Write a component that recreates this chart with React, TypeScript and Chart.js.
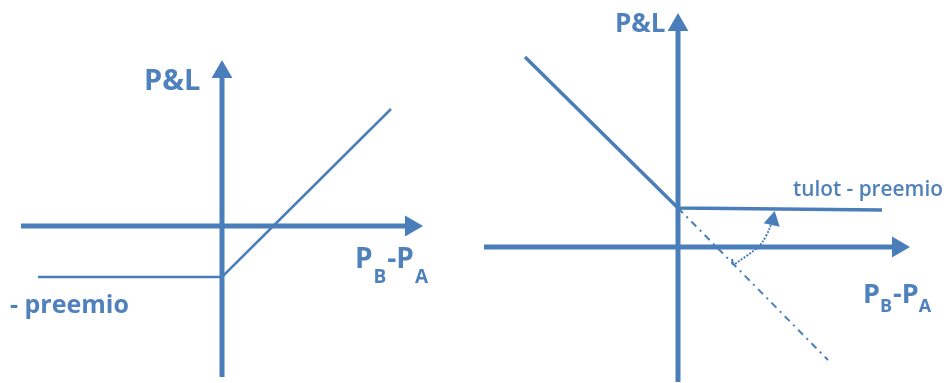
import React, { useEffect, useRef } from "react";
import { Chart, registerables } from "chart.js";

Chart.register(...registerables);

// ---- data (diagram units) ----
// Left panel: long call style payoff
const leftXAxis = [{ x: -20.1, y: 0 }, { x: 18.9, y: 0 }];
const leftYAxis = [{ x: 0, y: -15.1 }, { x: 0, y: 15.4 }];
const leftPayoff = [{ x: -18.4, y: -5.1 }, { x: 0, y: -5.1 }, { x: 16.9, y: 11.7 }];

// Right panel
const rightXAxis = [{ x: -19.4, y: 0 }, { x: 22.0, y: 0 }];
const rightYAxis = [{ x: 0, y: -13.5 }, { x: 0, y: 22.2 }];
const rightPayoff = [{ x: -15.3, y: 19.0 }, { x: 0, y: 3.9 }, { x: 20.4, y: 3.7 }];
const rightDashDot = [{ x: 0, y: 3.9 }, { x: 15.0, y: -11.3 }];
const rightCurveArrow = [{ x: 5.7, y: -1.7 }, { x: 8.0, y: 0 }, { x: 8.8, y: 1.1 }, { x: 9.47, y: 2.66 }];
const rightTick = [{ x: 5.4, y: -1.2 }, { x: 5.5, y: -1.8 }];

// ---- labels ----
const labelPL = "P&L";
const labelLeftPremium = "- preemio";
const labelRightPremium = "tulot - preemio";
const labelAxisMain = "P";
const labelSubB = "B";
const labelDash = "-";
const labelSubA = "A";

const LINE = "#4A7EBB";
const TEXT = "#4F81BD";
const FONT = '"Open Sans", "DejaVu Sans", sans-serif';

type Part = { t: string; size: number; dy: number; weight?: string; gap?: number };

function drawRich(ctx: CanvasRenderingContext2D, x: number, y: number, parts: Part[]) {
  let cx = x;
  for (const p of parts) {
    ctx.font = `${p.weight || "bold"} ${p.size}px ${FONT}`;
    ctx.fillText(p.t, cx, y + p.dy);
    cx += ctx.measureText(p.t).width + (p.gap || 0);
  }
}

const labelPlugin = {
  id: "diagramLabels",
  afterDatasetsDraw(chart: any) {
    const ctx: CanvasRenderingContext2D = chart.ctx;
    const s = chart.scales;
    const px = (scale: string, v: number) => s[scale].getPixelForValue(v);
    ctx.save();
    ctx.fillStyle = TEXT;
    ctx.textAlign = "left";
    ctx.textBaseline = "alphabetic";

    // Left panel
    drawRich(ctx, px("x1", -7.8), px("y1", 13.6), [{ t: labelPL, size: 29, dy: 0 }]);
    drawRich(ctx, px("x1", 13.3), px("y1", -4.2), [
      { t: labelAxisMain, size: 28, dy: 0, gap: 1 },
      { t: labelSubB, size: 19, dy: 15, gap: 1 },
      { t: labelDash, size: 28, dy: 0 },
      { t: labelAxisMain, size: 28, dy: 0, gap: 1 },
      { t: labelSubA, size: 19, dy: 15 },
    ]);
    drawRich(ctx, px("x1", -21.2), px("y1", -8.7), [{ t: labelLeftPremium, size: 25, dy: 0 }]);

    // Right panel
    drawRich(ctx, px("x2", -6.3), px("y2", 21.5), [{ t: labelPL, size: 26, dy: 0 }]);
    drawRich(ctx, px("x2", 18.5), px("y2", -5.6), [
      { t: labelAxisMain, size: 27, dy: 0 },
      { t: labelSubB, size: 18, dy: 9, gap: 1 },
      { t: labelDash, size: 27, dy: 0 },
      { t: labelAxisMain, size: 27, dy: 0 },
      { t: labelSubA, size: 18, dy: 9 },
    ]);
    drawRich(ctx, px("x2", 11.5), px("y2", 5.1), [{ t: labelRightPremium, size: 20.8, dy: 0, weight: "600" }]);
    ctx.restore();
  },
};

function arrowLine(data: any[], xAxisID: string, yAxisID: string, width: number, rot: number, r: number, extra: any = {}) {
  return {
    data,
    xAxisID,
    yAxisID,
    showLine: true,
    borderColor: LINE,
    backgroundColor: LINE,
    borderWidth: width,
    pointRadius: data.map((_, i) => (i === data.length - 1 ? r : 0)),
    pointHoverRadius: 0,
    pointStyle: "triangle",
    pointRotation: rot,
    pointBorderWidth: 0,
    pointBackgroundColor: LINE,
    clip: false,
    ...extra,
  };
}

function plainLine(data: any[], xAxisID: string, yAxisID: string, width: number, extra: any = {}) {
  return {
    data,
    xAxisID,
    yAxisID,
    showLine: true,
    borderColor: LINE,
    backgroundColor: LINE,
    borderWidth: width,
    pointRadius: 0,
    pointHoverRadius: 0,
    clip: false,
    borderCapStyle: "butt",
    borderJoinStyle: "miter",
    ...extra,
  };
}

export default function App() {
  const ref = useRef<HTMLCanvasElement | null>(null);
  useEffect(() => {
    if (!ref.current) return;
    const chart = new Chart(ref.current, {
      type: "scatter",
      data: {
        datasets: [
          arrowLine(leftXAxis, "x1", "y1", 5, 90, 12),
          arrowLine(leftYAxis, "x1", "y1", 5, 0, 12),
          plainLine(leftPayoff, "x1", "y1", 2.5),
          arrowLine(rightXAxis, "x2", "y2", 5, 90, 12),
          arrowLine(rightYAxis, "x2", "y2", 5, 0, 12),
          plainLine(rightPayoff, "x2", "y2", 3.5),
          plainLine(rightDashDot, "x2", "y2", 2, { borderDash: [7, 5, 2, 5] }),
          arrowLine(rightCurveArrow, "x2", "y2", 2, 12, 9.5, { borderDash: [2, 1.5], tension: 0.4 }),
          plainLine(rightTick, "x2", "y2", 2),
        ] as any,
      },
      options: {
        animation: false,
        responsive: false,
        maintainAspectRatio: false,
        events: [],
        layout: { padding: 0, autoPadding: false },
        plugins: { legend: { display: false }, title: { display: false }, tooltip: { enabled: false } },
        scales: {
          x1: { type: "linear", display: false, min: -22.2, max: 72.4 },
          y1: { type: "linear", display: false, min: -15.7, max: 22.6 },
          x2: { type: "linear", display: false, min: -67.8, max: 26.8 },
          y2: { type: "linear", display: false, min: -13.6, max: 24.7 },
        },
      },
      plugins: [labelPlugin],
    });
    return () => chart.destroy();
  }, []);
  return (
    <div style={{ position: "absolute", left: 0, top: 0, width: 946, height: 383, background: "#fff" }}>
      <canvas ref={ref} width={946} height={383} style={{ display: "block" }} />
    </div>
  );
}
